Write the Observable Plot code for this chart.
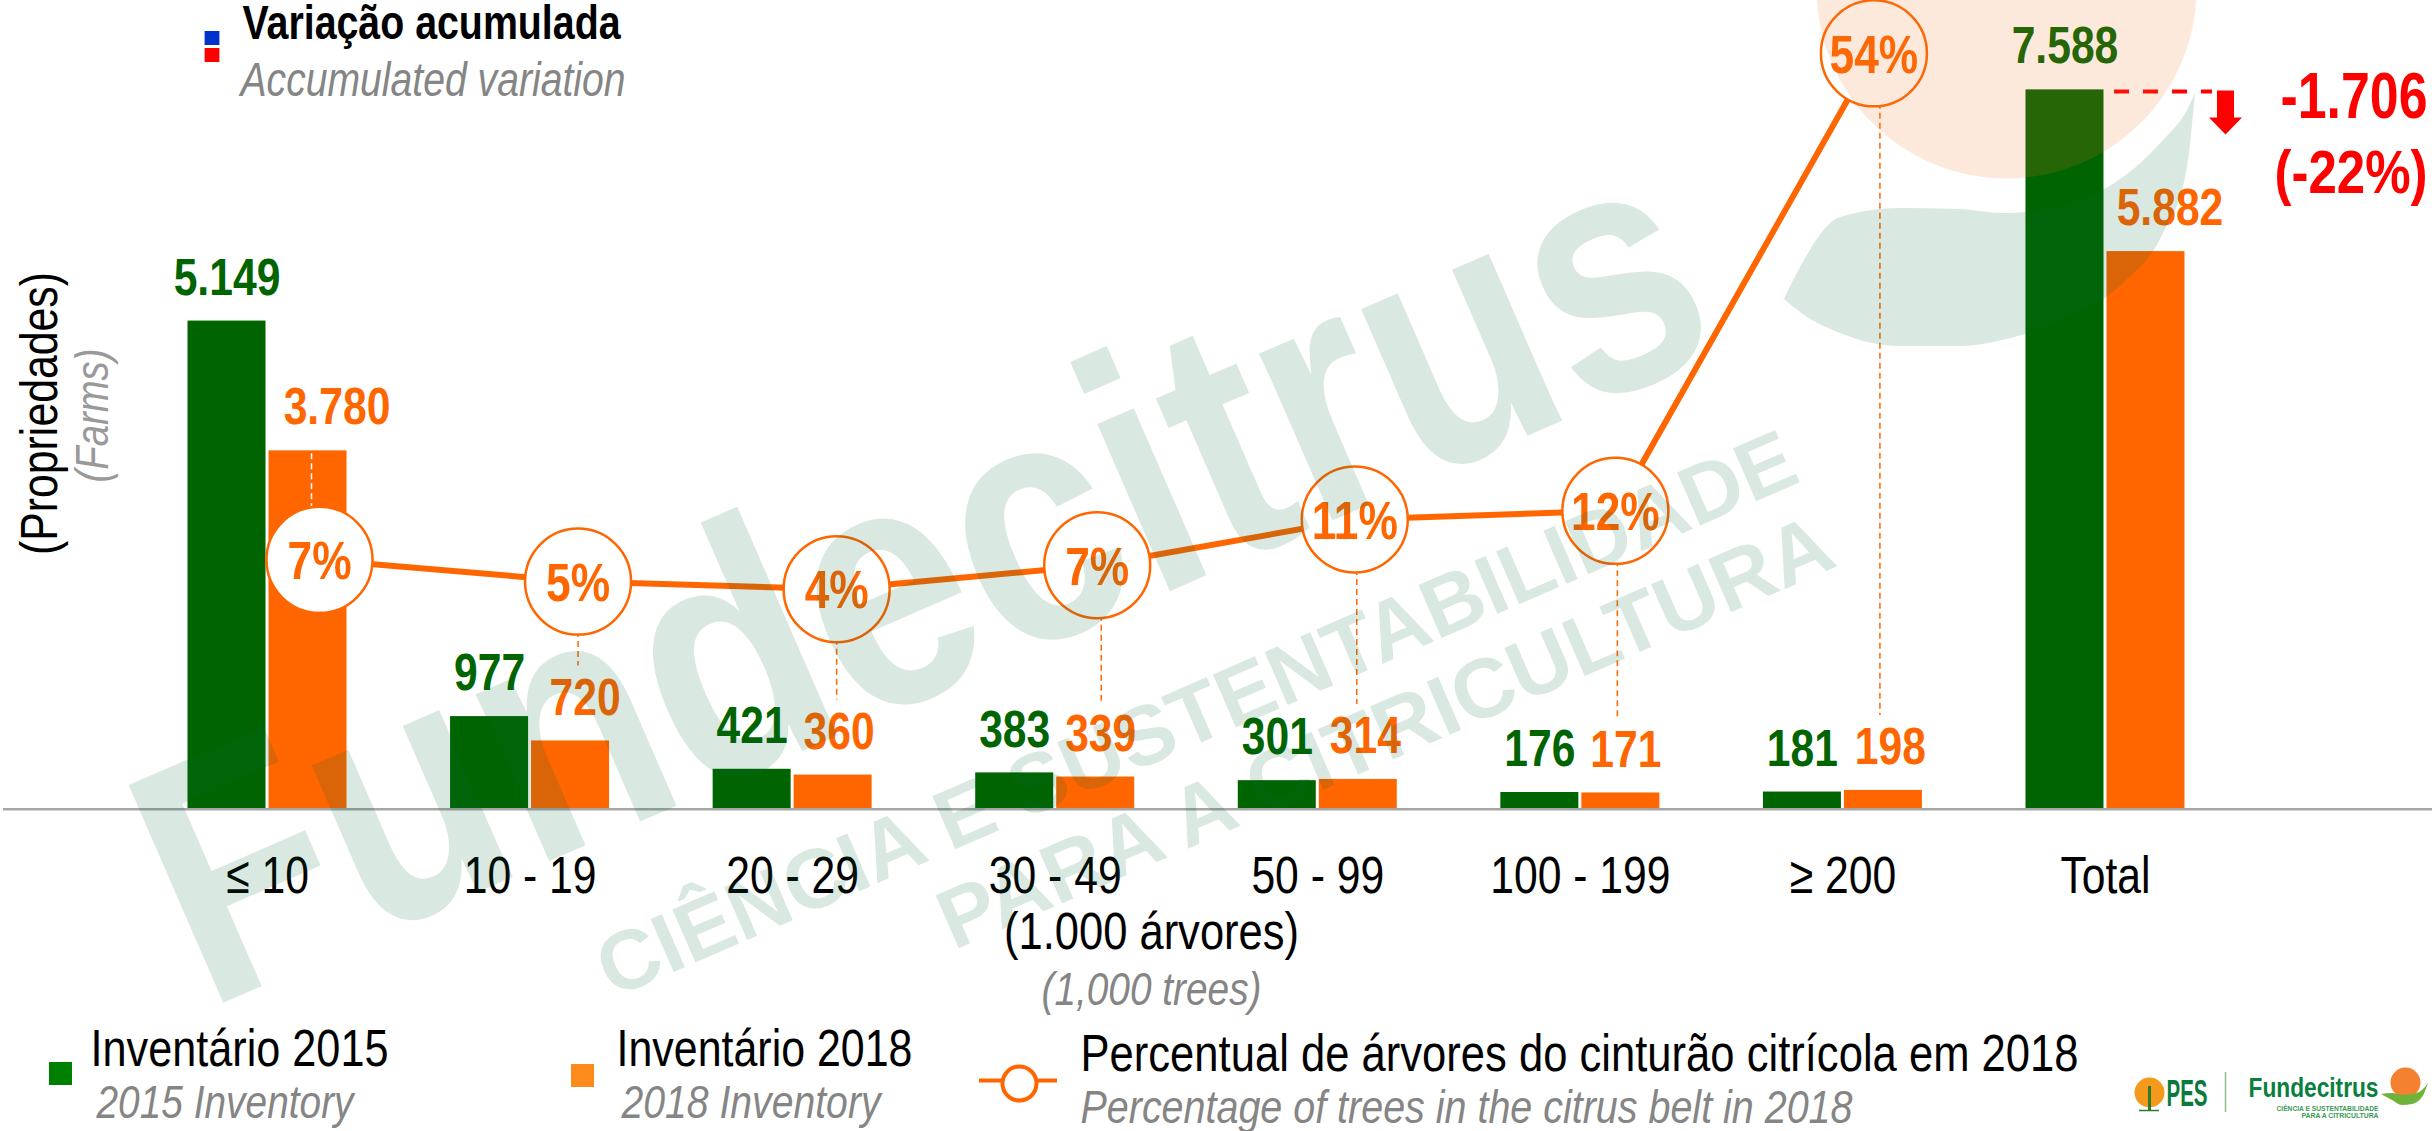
<!DOCTYPE html>
<html lang="pt">
<head>
<meta charset="utf-8">
<script src="https://cdn.jsdelivr.net/npm/d3@7"></script>
<script src="https://cdn.jsdelivr.net/npm/@observablehq/plot@0.6"></script>
<style>
html,body{margin:0;padding:0;background:#fff;overflow:hidden}
svg{display:block}
</style>
</head>
<body>
<div id="chart"></div>
<script>
// ---- chart values ----
const categories = ["≤ 10","10 - 19","20 - 29","30 - 49","50 - 99","100 - 199","≥ 200","Total"];
const inv2015 = [5149,977,421,383,301,176,181,7588];
const inv2018 = [3780,720,360,339,314,171,198,5882];
const pctValues = [7,5,4,7,11,12,54];
// heights at which the picture places the percentage markers (unrounded reading)
const pctPlotted = [7.5,5.5,4.8,7,11.2,12,54];
const delta = "-1.706";
const deltaPct = "(-22%)";

// ---- layout ----
const W = 2432, H = 1131, BASE = 808.7, PXPER = 0.0948, STEP = 262.57, X0 = 267;
const BARW = 78, GAP = 3;
const SANS = "'Liberation Sans',Arial,sans-serif";
const SQUEEZE = 0.82;
const ORANGE = "#ff6600", GREEN = "#006400", GREY = "#858585";
const label2018Shift = [29,14.5,6,5,7,5,7,24];
const pctShift = [52,48,44,42,37,35,31];
const leaderShift = [44,48,44,46,39,37,37];
const X = px => (px - X0) / STEP;
const Y = py => (BASE - py) / PXPER;
const pctY = p => 1769 + 114.9 * p;
const ptBR = d3.formatLocale({decimal:",",thousands:".",grouping:[3],currency:["",""]}).format(",");

const bars = categories.map((c,i)=>({i,c,a:inv2015[i],b:inv2018[i]}));
const pcts = pctValues.map((p,i)=>({i,p,x:i+pctShift[i]/STEP,lx:i+leaderShift[i]/STEP,y:pctY(pctPlotted[i]),
  y2: i===0 ? inv2018[0] : inv2018[i] + 75/PXPER, stroke: i===0 ? "#fff" : ORANGE}));

function note(str, px, py, o={}){
  const {len, ...rest} = o;
  return Plot.text([str],{text:d=>d,frameAnchor:"top-left",dx:px,dy:py,textAnchor:"start",lineAnchor:"middle",
    fontFamily:SANS,fontSize:52,fill:"#000",...rest,
    render: len ? (idx,sc,v,dim,ctx,next)=>{const g=next(idx,sc,v,dim,ctx);
      d3.select(g).selectAll("text").attr("textLength",len).attr("lengthAdjust","spacingAndGlyphs");return g;} : undefined});
}
function wm(str,bx,by,size,len){
  const t=-23.5*Math.PI/180, ax=bx+Math.sin(t)*0.32*size, ay=by-Math.cos(t)*0.32*size;
  return note(str,ax,ay,{fontSize:size,fontWeight:"bold",rotate:-23.5,fill:"#006633",fillOpacity:0.15,len});
}
const box=(x1,x2,y1,y2,fill,extra={})=>Plot.rect([0],{x1:X(x1),x2:X(x2),y1:Y(y1),y2:Y(y2),fill,...extra});
const poly=(pts,fill,extra={})=>Plot.line(pts,{x:d=>X(d[0]),y:d=>Y(d[1]),fill,stroke:"none",...extra});

// green swoosh of the watermark: [x, top, bottom] in page pixels
const swoosh=[[1784,299,299],[1800,267,312],[1840,217,333],[1900,208,346],[1960,209,346],[2002,213,340],[2062,205,320],[2123,177,283],[2163,140,233],[2187,110,167],[2195,93,93]];
const miniSwoosh=[[2381,1094,1094],[2392,1093,1100],[2402,1095,1105],[2412,1094,1104],[2422,1090,1097],[2428,1083,1083]];

const chart = Plot.plot({
  width:W,height:H,marginTop:0,marginBottom:H-BASE,marginLeft:0,marginRight:0,
  style:{background:"#fff",fontFamily:SANS},
  x:{type:"linear",domain:[0,7],range:[X0,X0+7*STEP]},
  y:{domain:[0,BASE/PXPER],axis:null},
  marks:[
    Plot.axisX({ticks:d3.range(8),tickFormat:i=>categories[i],tickSize:0,tickPadding:47,fontSize:52,fontFamily:SANS,label:null,fill:"#000"}),
    // bars
    Plot.rectY(bars,{x1:d=>d.i-(BARW+GAP/2)/STEP,x2:d=>d.i-GAP/2/STEP,y:"a",fill:GREEN}),
    Plot.rectY(bars,{x1:d=>d.i+GAP/2/STEP,x2:d=>d.i+(BARW+GAP/2)/STEP,y:"b",fill:ORANGE}),
    // base line
    Plot.ruleY([0],{x1:X(3),x2:X(W),stroke:"#a6a6a6",strokeWidth:2.5}),
    // leaders
    Plot.ruleX(pcts,{x:"lx",y1:"y",y2:"y2",stroke:"stroke",strokeWidth:1.5,strokeDasharray:"6,4"}),
    // percentage line + markers
    Plot.line(pcts,{x:"x",y:"y",stroke:ORANGE,strokeWidth:6}),
    Plot.dot(pcts,{x:"x",y:"y",r:53,fill:"#fff",stroke:ORANGE,strokeWidth:2.5}),
    Plot.text(pcts,{x:"x",y:"y",dy:2,text:d=>d.p+"%",fontFamily:SANS,fontWeight:"bold",fontSize:54,fill:ORANGE,lineAnchor:"middle"}),
    // value labels
    Plot.text(bars,{x:d=>d.i-(BARW+GAP)/2/STEP,y:"a",text:d=>ptBR(d.a),dy:-43,lineAnchor:"middle",fontFamily:SANS,fontWeight:"bold",fontSize:52,fill:GREEN}),
    Plot.text(bars,{x:d=>d.i+((BARW+GAP)/2+label2018Shift[d.i])/STEP,y:"b",text:d=>ptBR(d.b),dy:-43,lineAnchor:"middle",fontFamily:SANS,fontWeight:"bold",fontSize:52,fill:ORANGE}),
    // axis captions
    note("(1.000 árvores)",1151,932,{textAnchor:"middle",len:295}),
    note("(1,000 trees)",1151,989,{textAnchor:"middle",fontSize:47,fontStyle:"italic",fill:GREY,len:220}),
    note("(Propriedades)",40,413,{textAnchor:"middle",rotate:-90,len:283}),
    note("(Farms)",92,415,{textAnchor:"middle",rotate:-90,fontSize:47,fontStyle:"italic",fill:"#999",len:134}),
    // accumulated variation key
    box(204.6,219.4,31,45,"#0033cc"),
    box(204.6,219.4,48,62,"#ff0000"),
    note("Variação acumulada",242,23,{fontSize:48,fontWeight:"bold",len:378}),
    note("Accumulated variation",240,80,{fontSize:48,fontStyle:"italic",fill:GREY,len:385}),
    // difference annotation
    Plot.ruleY([7588],{x1:X(2114),x2:X(2212),y:Y(91),stroke:"#ff0000",strokeWidth:4,strokeDasharray:"15,14"}),
    poly([[2216.5,90],[2233.5,90],[2233.5,117],[2241.5,117],[2225,134],[2208.5,117],[2216.5,117],[2216.5,90]],"#ff0000"),
    note(delta,2427,97,{textAnchor:"end",fontSize:64,fontWeight:"bold",fill:"#ff0000",len:147}),
    note(deltaPct,2427,173,{textAnchor:"end",fontSize:62,fontWeight:"bold",fill:"#ff0000",len:153}),
    // legend
    box(49,72,1062,1085,"#008000"),
    note("Inventário 2015",90,1049,{len:298}),
    note("2015 Inventory",96,1102,{fontSize:47,fontStyle:"italic",fill:GREY,len:257}),
    box(571,594,1064,1087,"#fd8b1b"),
    note("Inventário 2018",616,1049,{len:296}),
    note("2018 Inventory",621,1102,{fontSize:47,fontStyle:"italic",fill:GREY,len:259}),
    Plot.ruleY([0],{x1:X(979),x2:X(1057),y:Y(1080),stroke:ORANGE,strokeWidth:4}),
    Plot.dot([0],{x:X(1019),y:Y(1083),r:17,fill:"#fff",stroke:ORANGE,strokeWidth:4}),
    note("Percentual de árvores do cinturão citrícola em 2018",1080,1054,{len:998}),
    note("Percentage of trees in the citrus belt in 2018",1080,1107,{fontSize:47,fontStyle:"italic",fill:GREY,len:772}),
    // small logos
    Plot.dot([0],{x:X(2149),y:Y(1092),r:15,fill:"#f39a1d"}),
    Plot.ruleX([0],{x:X(2149),y1:Y(1086),y2:Y(1110),stroke:"#2d7a2d",strokeWidth:3}),
    Plot.ruleY([0],{x1:X(2139),x2:X(2159),y:Y(1110),stroke:"#2d7a2d",strokeWidth:1.5}),
    note("PES",2166,1094,{fontSize:36,fontWeight:"bold",fill:"#0a7a3c",len:41}),
    Plot.ruleX([0],{x:X(2225),y1:Y(1072),y2:Y(1112),stroke:"#8fbf8f",strokeWidth:1.5}),
    note("Fundecitrus",2248,1088,{fontSize:27,fontWeight:"bold",fill:"#0a8040",len:130}),
    note("CIÊNCIA E SUSTENTABILIDADE",2378,1108,{textAnchor:"end",fontSize:6.5,fontWeight:"bold",fill:"#3a9a55",len:102}),
    note("PARA A CITRICULTURA",2378,1115,{textAnchor:"end",fontSize:6.5,fontWeight:"bold",fill:"#3a9a55",len:77}),
    Plot.dot([0],{x:X(2405),y:Y(1082),r:15,fill:"#f4812f"}),
    Plot.areaY(miniSwoosh,{x:d=>X(d[0]),y1:d=>Y(d[1]),y2:d=>Y(d[2]),fill:"#6fb23a",curve:"monotone-x"}),
    // watermark, laid over everything
    Plot.dot([0],{x:X(2006),y:Y(-12),r:190,fill:"#ed7525",fillOpacity:0.16}),
    Plot.areaY(swoosh,{x:d=>X(d[0]),y1:d=>Y(d[1]),y2:d=>Y(d[2]),fill:"#006633",fillOpacity:0.15,curve:"monotone-x"}),
    wm("Fundecitrus",205,1010,345,1660),
    wm("CIÊNCIA E SUSTENTABILIDADE",612,998,84,1298),
    wm("PARA A CITRICULTURA",953,950,84,966)
  ]
});
document.getElementById("chart").append(chart);
// Arial Narrow proportions: condense every remaining text horizontally
chart.querySelectorAll("text").forEach(t=>{
  if(!t.hasAttribute("textLength")){
    t.setAttribute("textLength",(t.getComputedTextLength()*SQUEEZE).toFixed(1));
    t.setAttribute("lengthAdjust","spacingAndGlyphs");
  }
});
</script>
</body>
</html>
